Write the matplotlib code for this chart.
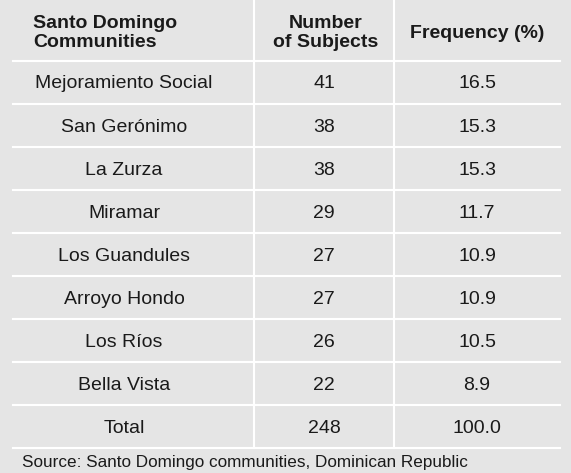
import matplotlib
matplotlib.use("Agg")
import matplotlib.pyplot as plt

headers = ["Santo Domingo\nCommunities", "Number\nof Subjects", "Frequency (%)"]
communities = ["Mejoramiento Social", "San Gerónimo", "La Zurza", "Miramar",
               "Los Guandules", "Arroyo Hondo", "Los Ríos", "Bella Vista", "Total"]
subjects = ["41", "38", "38", "29", "27", "27", "26", "22", "248"]
freq = ["16.5", "15.3", "15.3", "11.7", "10.9", "10.9", "10.5", "8.9", "100.0"]
source = "Source: Santo Domingo communities, Dominican Republic"

fig = plt.figure(figsize=(5.71, 4.73), dpi=100)
fig.patch.set_facecolor("#e5e5e5")
ax = fig.add_axes([0, 0, 1, 1])
ax.set_xlim(0, 571); ax.set_ylim(473, 0); ax.axis("off")
plt.rcParams['font.family'] = ['Liberation Sans', 'DejaVu Sans']

xs = [124, 324, 477]
x0, x1 = 13, 560
top, hdr = 0, 61
rh = 43
bottom = hdr + rh * len(communities)
col = "#1a1a1a"
fs = 14

for x, h, ha in zip([33, 326, 477], headers, ["left", "center", "center"]):
    ax.text(x, 33, h, ha=ha, va="center", fontsize=fs,
            fontweight="bold", color=col, linespacing=1.1)

for i, (c, s, f) in enumerate(zip(communities, subjects, freq)):
    y = hdr + rh * i + rh / 2 + 1.5
    for x, t in zip(xs, (c, s, f)):
        ax.text(x, y, t, ha="center", va="center", fontsize=fs, color=col)

for i in range(len(communities) + 1):
    y = hdr + rh * i
    ax.plot([x0, x1], [y, y], color="white", lw=1.5)
for x in (254, 394):
    ax.plot([x, x], [top, bottom], color="white", lw=1.5)

ax.text(22, 462, source, ha="left", va="center", fontsize=12.3, color=col)
fig.savefig("out.png", dpi=100, facecolor=fig.get_facecolor())
